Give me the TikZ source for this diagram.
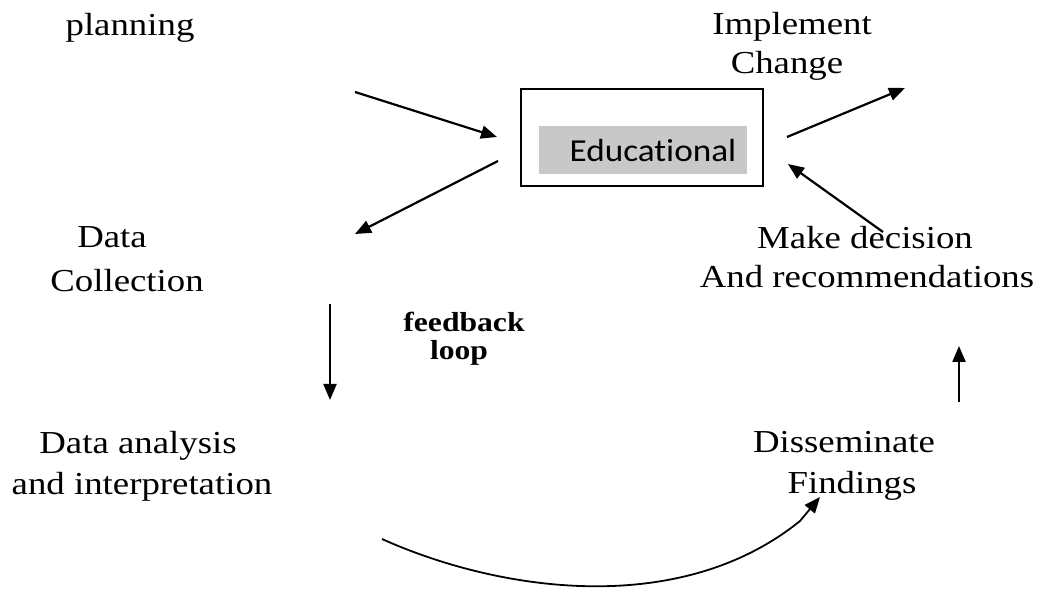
\documentclass[tikz,border=0pt]{standalone}
\usepackage{fontspec}
\usetikzlibrary{arrows.meta}
\newfontfamily\tnr[FakeStretch=1.15]{Liberation Serif}
\newfontfamily\carfont[FakeStretch=1.1,Ligatures=CommonOff]{Carlito}
\definecolor{boxgray}{RGB}{200,200,200}
\tikzset{
  lbl/.style={font=\tnr\fontsize{32}{38}\selectfont, inner sep=0pt, anchor=base},
  fb/.style={font=\tnr\bfseries\fontsize{27.5}{32}\selectfont, inner sep=0pt, anchor=base},
  arr/.style={line width=2.2pt, -{Triangle[length=16pt,width=13pt]}},
}
\begin{document}
\begin{tikzpicture}[x=1pt,y=-1pt]
\useasboundingbox (0,0) rectangle (1044,601);
% texts
\node[lbl] (plan) at (130,36) {planning};
\node[lbl] (impl1) at (792,35) {Implement};
\node[lbl] (impl2) at (787,74) {Change};
\node[lbl] (dc1) at (112,248) {Data};
\node[lbl] (dc2) at (127,292) {Collection};
\node[lbl] (md1) at (865,249) {Make decision};
\node[lbl] (md2) at (867,288) {And recommendations};
\node[fb] (fb1) at (464,332) {feedback};
\node[fb] (fb2) at (459,360) {loop};
\node[lbl] (da1) at (138,453) {Data analysis};
\node[lbl] (da2) at (142,494) {and interpretation};
\node[lbl] (df1) at (844,452) {Disseminate};
\node[lbl] (df2) at (852,493) {Findings};
% box
\node[draw, line width=1.8pt, minimum width=242pt, minimum height=97pt, inner sep=0pt] (box) at (642,137.5) {};
\node[fill=boxgray, minimum width=208pt, minimum height=48pt, inner sep=0pt] (gray) at (643,150) {};
\node[font=\carfont\fontsize{32}{38}\selectfont, inner sep=0pt, anchor=base] (edu) at (653,162) {Educational};
% arrow coordinates
\coordinate (a1s) at (355,92);  \coordinate (a1e) at (497,137);
\coordinate (a2s) at (498,161); \coordinate (a2e) at (355,234);
\coordinate (a3s) at (787,137); \coordinate (a3e) at (905,88);
\coordinate (a4s) at (883,232); \coordinate (a4e) at (788,164);
\coordinate (a5s) at (330,304); \coordinate (a5e) at (330,400);
\coordinate (a6s) at (959,402); \coordinate (a6e) at (959,346);
\coordinate (cs) at (382,539); \coordinate (ck) at (800,521); \coordinate (ce) at (820,497);
\draw[arr] (a1s) -- (a1e);
\draw[arr] (a2s) -- (a2e);
\draw[arr] (a3s) -- (a3e);
\draw[arr] (a4s) -- (a4e);
\draw[arr] (a5s) -- (a5e);
\draw[arr] (a6s) -- (a6e);
\draw[arr, line width=1.8pt] (cs) .. controls (500,592) and (680,618) .. (ck) -- (ce);
\end{tikzpicture}
\end{document}
